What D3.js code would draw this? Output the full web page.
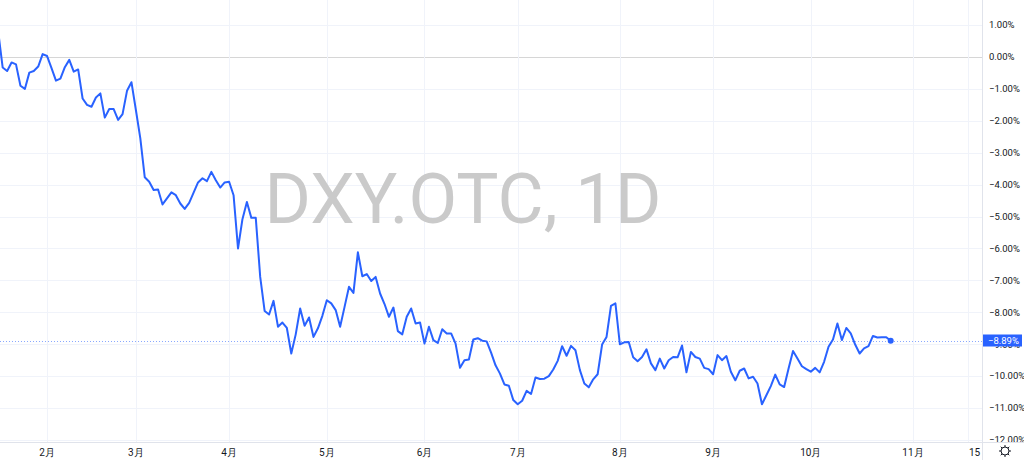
<!DOCTYPE html>
<html><head><meta charset="utf-8">
<script src="https://cdn.jsdelivr.net/npm/d3@7"></script>
<style>body{margin:0;background:#fff;overflow:hidden}svg{display:block}</style>
</head><body><svg id="c" width="1024" height="460"></svg>
<script>
// ---- data ----
const startBar = 11; // trading-day index of first value (Jan 2 = 0)
const values = [0.78,-0.33,-0.44,-0.17,-0.23,-0.90,-1.00,-0.49,-0.44,-0.30,0.09,
0.03,-0.35,-0.74,-0.68,-0.32,-0.09,-0.46,-0.39,-1.30,-1.50,
-1.56,-1.27,-1.14,-1.90,-1.63,-1.63,-1.97,-1.79,-1.06,-0.79,
-1.66,-2.55,-3.77,-3.91,-4.17,-4.15,-4.62,-4.43,-4.24,-4.33,
-4.59,-4.76,-4.57,-4.25,-3.93,-3.80,-3.89,-3.60,-3.86,-4.09,
-3.93,-3.91,-4.33,-6.00,-5.08,-4.54,-5.04,-5.04,-6.89,-7.96,
-8.07,-7.64,-8.45,-8.32,-8.49,-9.29,-8.69,-7.88,-8.42,-8.16,
-8.77,-8.50,-8.11,-7.62,-7.72,-7.93,-8.45,-7.83,-7.20,-7.39,
-6.12,-6.87,-6.80,-7.02,-6.89,-7.41,-7.74,-8.14,-7.85,-8.59,
-8.69,-8.14,-7.88,-8.35,-8.32,-8.98,-8.45,-8.87,-8.96,-8.53,
-8.66,-8.66,-8.98,-9.74,-9.50,-9.48,-8.85,-8.81,-8.89,-8.91,
-9.26,-9.66,-9.92,-10.26,-10.30,-10.75,-10.88,-10.77,-10.46,-10.56,
-10.04,-10.09,-10.08,-10.00,-9.79,-9.52,-9.06,-9.36,-9.05,-9.19,
-9.81,-10.23,-10.35,-10.10,-9.94,-9.01,-8.77,-7.80,-7.72,-9.00,
-8.94,-8.93,-9.41,-9.53,-9.40,-9.16,-9.60,-9.81,-9.45,-9.76,
-9.50,-9.40,-9.41,-9.04,-9.88,-9.24,-9.40,-9.45,-9.74,-9.78,
-9.94,-9.34,-9.50,-9.37,-9.86,-10.13,-9.83,-9.76,-10.07,-10.02,
-10.23,-10.88,-10.60,-10.31,-9.95,-10.26,-10.34,-9.76,-9.21,-9.45,
-9.69,-9.78,-9.86,-9.74,-9.88,-9.55,-9.08,-8.85,-8.35,-8.87,
-8.49,-8.66,-9.01,-9.29,-9.13,-9.06,-8.74,-8.79,-8.78,-8.78,-8.89];
const lastValue = -8.89;
const yTicks = [1,0,-1,-2,-3,-4,-5,-6,-7,-8,-9,-10,-11,-12];
const xTickBars = [22,42,63,85,107,128,151,172,194,217,229.3];
const xTickLabels = ["2月","3月","4月","5月","6月","7月","8月","9月","10月","11月","15"];
const watermark = "DXY.OTC, 1D";

// ---- layout ----
const W = 1024, H = 460, plotR = 982, plotB = 442;
const svg = d3.select("#c");
const x = d3.scaleLinear().domain([12, 212]).range([2.68, 890.7]);
const y = d3.scaleLinear().domain([-12, 1]).range([440, 25.08]);
const fmt = v => (v < 0 ? "\u2212" : "") + Math.abs(v).toFixed(2) + "%";
const FONT = "Roboto, 'Noto Sans', sans-serif";
const AXF = 9.5;

svg.append("defs").append("clipPath").attr("id","plot")
  .append("rect").attr("x",0).attr("y",0).attr("width",plotR).attr("height",plotB);
svg.select("defs").append("clipPath").attr("id","axisR")
  .append("rect").attr("x",plotR).attr("y",0).attr("width",W-plotR).attr("height",plotB);

// grid
const grid = svg.append("g").attr("clip-path","url(#plot)");
grid.selectAll("line.h").data(yTicks).join("line")
  .attr("x1",0).attr("x2",plotR).attr("y1",d=>Math.round(y(d))+0.5).attr("y2",d=>Math.round(y(d))+0.5)
  .attr("stroke", d => d === 0 ? "#d6d6d6" : "#f0f3fa").attr("stroke-width",1);
grid.selectAll("line.v").data(xTickBars).join("line")
  .attr("x1",d=>Math.round(x(d))+0.5).attr("x2",d=>Math.round(x(d))+0.5).attr("y1",0).attr("y2",plotB)
  .attr("stroke","#f0f3fa");

// watermark
const wm = svg.append("text").attr("x",463).attr("y",223).attr("text-anchor","middle")
  .attr("font-family",FONT).attr("font-size",80).attr("fill","#cacaca").text(watermark);
const wl = wm.node().getComputedTextLength();
wm.attr("font-size", 80 * 397 / wl);

// last value dotted line
svg.append("line").attr("x1",0).attr("x2",plotR).attr("y1",Math.round(y(lastValue))+0.5).attr("y2",Math.round(y(lastValue))+0.5)
  .attr("stroke","#2962ff").attr("stroke-opacity",0.55).attr("stroke-width",1).attr("stroke-dasharray","1,2");

// series line
const line = d3.line().x((d,i)=>x(startBar+i)).y(d=>y(d));
svg.append("path").datum(values).attr("clip-path","url(#plot)")
  .attr("d",line).attr("fill","none").attr("stroke","#2962ff").attr("stroke-width",2)
  .attr("stroke-linejoin","round");
svg.append("circle").attr("cx",x(startBar+values.length-1)).attr("cy",y(values[values.length-1]))
  .attr("r",3).attr("fill","#2962ff");

// borders
svg.append("line").attr("x1",plotR+0.5).attr("x2",plotR+0.5).attr("y1",0).attr("y2",H).attr("stroke","#e0e3eb");
svg.append("line").attr("x1",0).attr("x2",W).attr("y1",plotB+0.5).attr("y2",plotB+0.5).attr("stroke","#e0e3eb");

// right axis
const ya = svg.append("g").attr("clip-path","url(#axisR)");
ya.selectAll("text").data(yTicks).join("text")
  .attr("x",989).attr("y",d=>y(d)).attr("dy","0.35em")
  .attr("font-family",FONT).attr("font-size",AXF).attr("fill","#131722").text(fmt);

// last value label
const ly = y(lastValue);
svg.append("rect").attr("x",plotR+1).attr("y",Math.round(ly)-6.5).attr("width",39).attr("height",12).attr("fill","#2962ff");
svg.append("text").attr("x",988).attr("y",ly).attr("dy","0.35em").attr("font-family",FONT)
  .attr("font-size",AXF).attr("fill","#ffffff").text(fmt(lastValue));

// bottom axis labels
svg.append("g").selectAll("text").data(xTickBars).join("text")
  .attr("x",(d,i)=> x(d) + (i === xTickBars.length-1 ? 7 : 0)).attr("y",452).attr("dy","0.35em")
  .attr("text-anchor","middle").attr("font-family",FONT).attr("font-size",10).attr("fill","#131722")
  .text((d,i)=>xTickLabels[i]);

// gear icon
const gx = 1005, gy = 451;
const gear = svg.append("g").attr("transform",`translate(${gx},${gy})`).attr("stroke","#131722").attr("fill","none").attr("stroke-width",1);
gear.append("circle").attr("r",4);
d3.range(8).forEach(k => {
  const a = k*Math.PI/4;
  gear.append("line").attr("x1",4*Math.cos(a)).attr("y1",4*Math.sin(a)).attr("x2",6*Math.cos(a)).attr("y2",6*Math.sin(a));
});
</script></body></html>
